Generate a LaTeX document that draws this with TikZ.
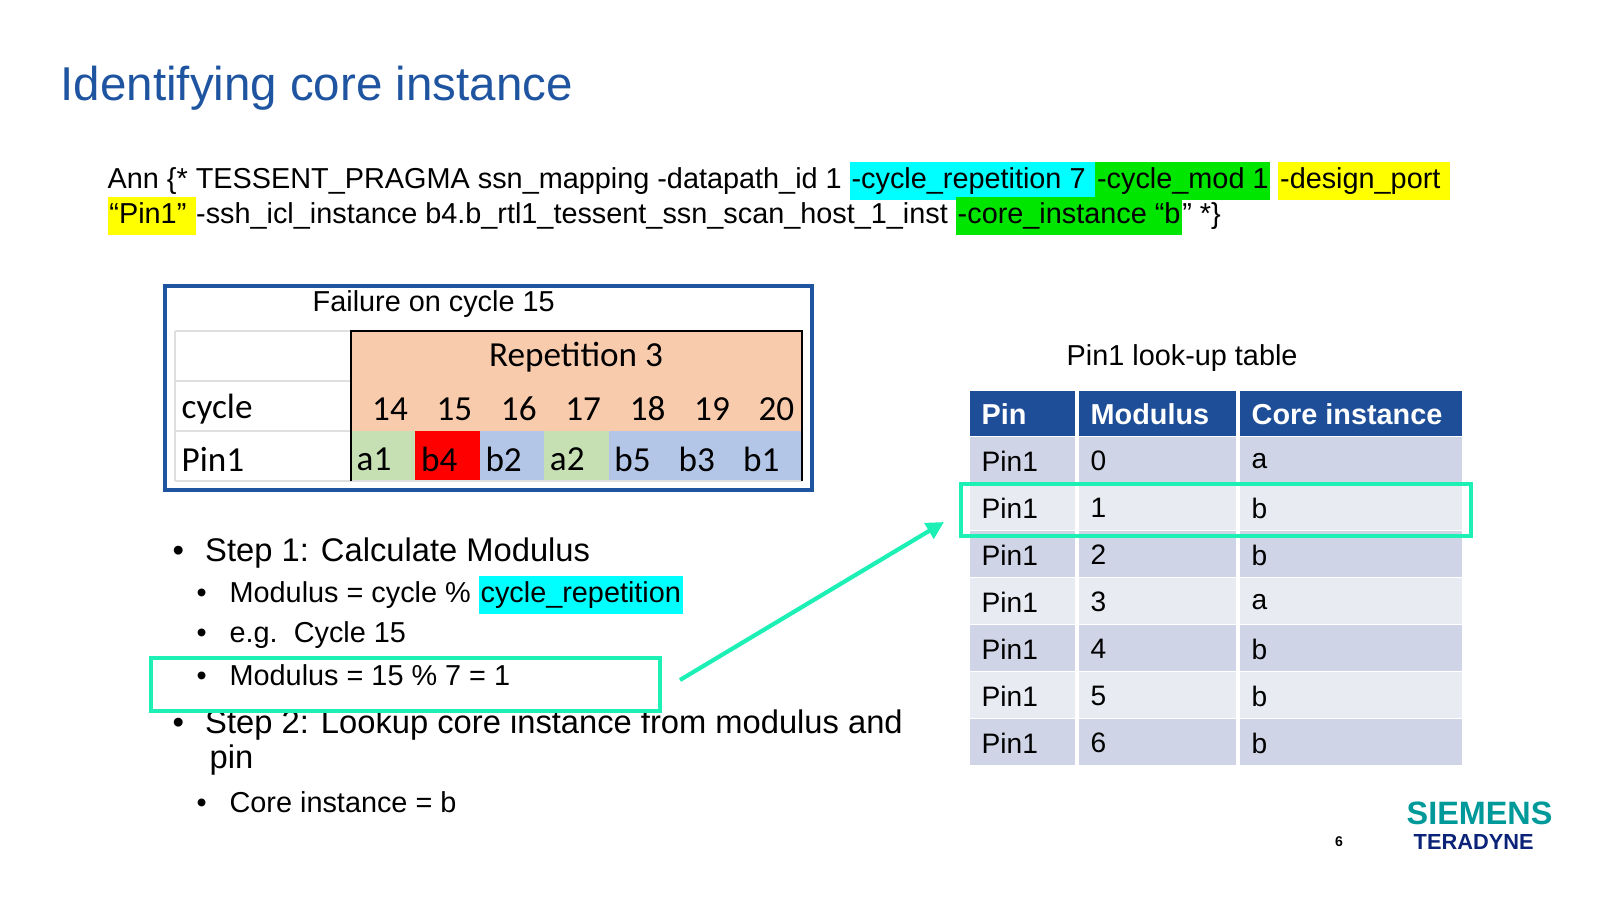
\documentclass[tikz,border=0pt]{standalone}
\usepackage{fontspec}
\setmainfont{Liberation Sans}
\newfontfamily\calibri{Carlito}
\usetikzlibrary{arrows.meta, positioning}
\definecolor{titleblue}{RGB}{31,84,160}
\definecolor{hlcyan}{RGB}{0,255,255}
\definecolor{hlgreen}{RGB}{0,230,0}
\definecolor{hlyellow}{RGB}{255,255,0}
\definecolor{peach}{RGB}{248,203,173}
\definecolor{cellgreen}{RGB}{198,224,180}
\definecolor{cellblue}{RGB}{180,198,231}
\definecolor{hdrblue}{RGB}{31,78,152}
\definecolor{rowdark}{RGB}{207,213,230}
\definecolor{rowlight}{RGB}{233,235,243}
\definecolor{markgreen}{RGB}{29,240,180}
\definecolor{siemens}{RGB}{0,153,153}
\definecolor{teradyne}{RGB}{10,35,120}
\tikzset{
    txt/.style={anchor=west, inner sep=0pt, font=\fontsize{8.2pt}{10pt}\selectfont},
    stepTxt/.style={anchor=west, inner sep=0pt, font=\fontsize{9.3pt}{11pt}\selectfont},
    cell/.style={inner sep=0pt, font=\calibri\fontsize{10pt}{12pt}\selectfont},
    lut/.style={anchor=west, inner sep=0pt, font=\fontsize{8pt}{10pt}\selectfont},
    lutHead/.style={anchor=west, inner sep=0pt, text=white, font=\bfseries\fontsize{8.2pt}{10pt}\selectfont},
    markBox/.style={draw=markgreen, line width=1.2pt},
}
\newcommand{\hl}[2]{{\setlength{\fboxsep}{0.5pt}\colorbox{#1}{\strut #2}}}
\begin{document}
\begin{tikzpicture}[x=0.01cm, y=-0.01cm]
    \useasboundingbox (0,0) rectangle (1600,900);

    % title and pragma
    \node[anchor=west, inner sep=0pt, text=titleblue, font=\fontsize{13.5pt}{16pt}\selectfont] (title) at (60,88) {Identifying core instance};
    \node[txt] (ann1) at (107,181) {Ann \{* TESSENT\_PRAGMA ssn\_mapping -datapath\_id 1 \hl{hlcyan}{-cycle\_repetition 7 }\hl{hlgreen}{-cycle\_mod 1} \hl{hlyellow}{-design\_port }};
    \node[txt] (ann2) at (107,216) {\hl{hlyellow}{“Pin1” }-ssh\_icl\_instance b4.b\_rtl1\_tessent\_ssn\_scan\_host\_1\_inst \hl{hlgreen}{-core\_instance “b}" *\}};

    % failure table
    \draw[titleblue, line width=1pt] (165,286) rectangle (812,490);
    \node[txt] (fail) at (312,304) {Failure on cycle 15};
    \fill[peach] (351,331) rectangle (802,431);
    \foreach \i/\c/\v in {0/cellgreen/a1, 1/red/b4, 2/cellblue/b2, 3/cellgreen/a2, 4/cellblue/b5, 5/cellblue/b3, 6/cellblue/b1} {
        \fill[\c] ({351+\i*64.4},431) rectangle ({351+(\i+1)*64.4},481);
        \node[cell, anchor=west] (p\i) at ({356+\i*64.4},459) {\v};
    }
    \foreach \i/\n in {0/14, 1/15, 2/16, 3/17, 4/18, 5/19, 6/20}
        \node[cell] (c\i) at ({390+\i*64.4},409) {\n};
    \draw[gray!25] (175,331) -- (351,331) (175,381) -- (351,381) (175,431) -- (351,431) (175,481) -- (802,481) (175,331) -- (175,481);
    \draw[black, thin] (351,481) -- (351,331) -- (802,331) -- (802,481);
    \node[cell] (rep) at (576,357) {Repetition 3};
    \node[cell, anchor=west] (cyc) at (181,409) {cycle};
    \node[cell, anchor=west] (pin) at (181,459) {Pin1};

    % steps
    \node[stepTxt] (b1) at (172,553) {•\hspace{6pt}Step 1: Calculate Modulus};
    \node[txt] (s1) at (196,595) {•\hspace{6.5pt}Modulus = cycle \% \hl{hlcyan}{cycle\_repetition}};
    \node[txt] (s2) at (196,635) {•\hspace{6.5pt}e.g.\ \ Cycle 15};
    \node[txt] (s3) at (196,675) {•\hspace{6.5pt}Modulus = 15 \% 7 = 1};
    \node[stepTxt] (b2) at (172,725) {•\hspace{6pt}Step 2: Lookup core instance from modulus and};
    \node[stepTxt] (b2b) at (209,760) {pin};
    \node[txt] (s4) at (196,802) {•\hspace{6.5pt}Core instance = b};

    % look-up table
    \node[txt] (lutTitle) at (1066,358) {Pin1 look-up table};
    \fill[hdrblue] (970,391) rectangle (1462,436);
    \node[lutHead] (h1) at (981,414) {Pin};
    \node[lutHead] (h2) at (1090,414) {Modulus};
    \node[lutHead] (h3) at (1251,414) {Core instance};
    \foreach \r/\c in {0/a, 1/b, 2/b, 3/a, 4/b, 5/b, 6/b} {
        \pgfmathsetmacro{\yy}{437+\r*47}
        \ifodd\r \def\rc{rowlight}\else \def\rc{rowdark}\fi
        \fill[\rc] (970,\yy) rectangle (1462,{\yy+46});
        \node[lut] (r\r a) at (981,{\yy+24}) {Pin1};
        \node[lut] (r\r b) at (1090,{\yy+24}) {\r};
        \node[lut] (r\r c) at (1251,{\yy+24}) {\c};
    }
    \draw[white, line width=1.2pt] (1077,391) -- (1077,766) (1238,391) -- (1238,766);

    % marks
    \draw[markBox] (961,484) rectangle (1471,536);
    \draw[markBox] (151,658) rectangle (660,711);
    \coordinate (arrS) at (680,680);
    \coordinate (arrE) at (944,522);
    \draw[markgreen, line width=1.2pt, -{Triangle[length=5pt, width=5pt]}] (arrS) -- (arrE);

    % footer
    \node[inner sep=0pt, font=\bfseries\fontsize{4pt}{5pt}\selectfont] (page) at (1339,842) {6};
    \node[anchor=west, inner sep=0pt, text=siemens, font=\bfseries\fontsize{9.2pt}{10pt}\selectfont] (logo1) at (1406,813) {SIEMENS};
    \node[anchor=west, inner sep=0pt, text=teradyne, font=\bfseries\fontsize{6.2pt}{7pt}\selectfont] (logo2) at (1413,842) {TERADYNE};
\end{tikzpicture}
\end{document}
